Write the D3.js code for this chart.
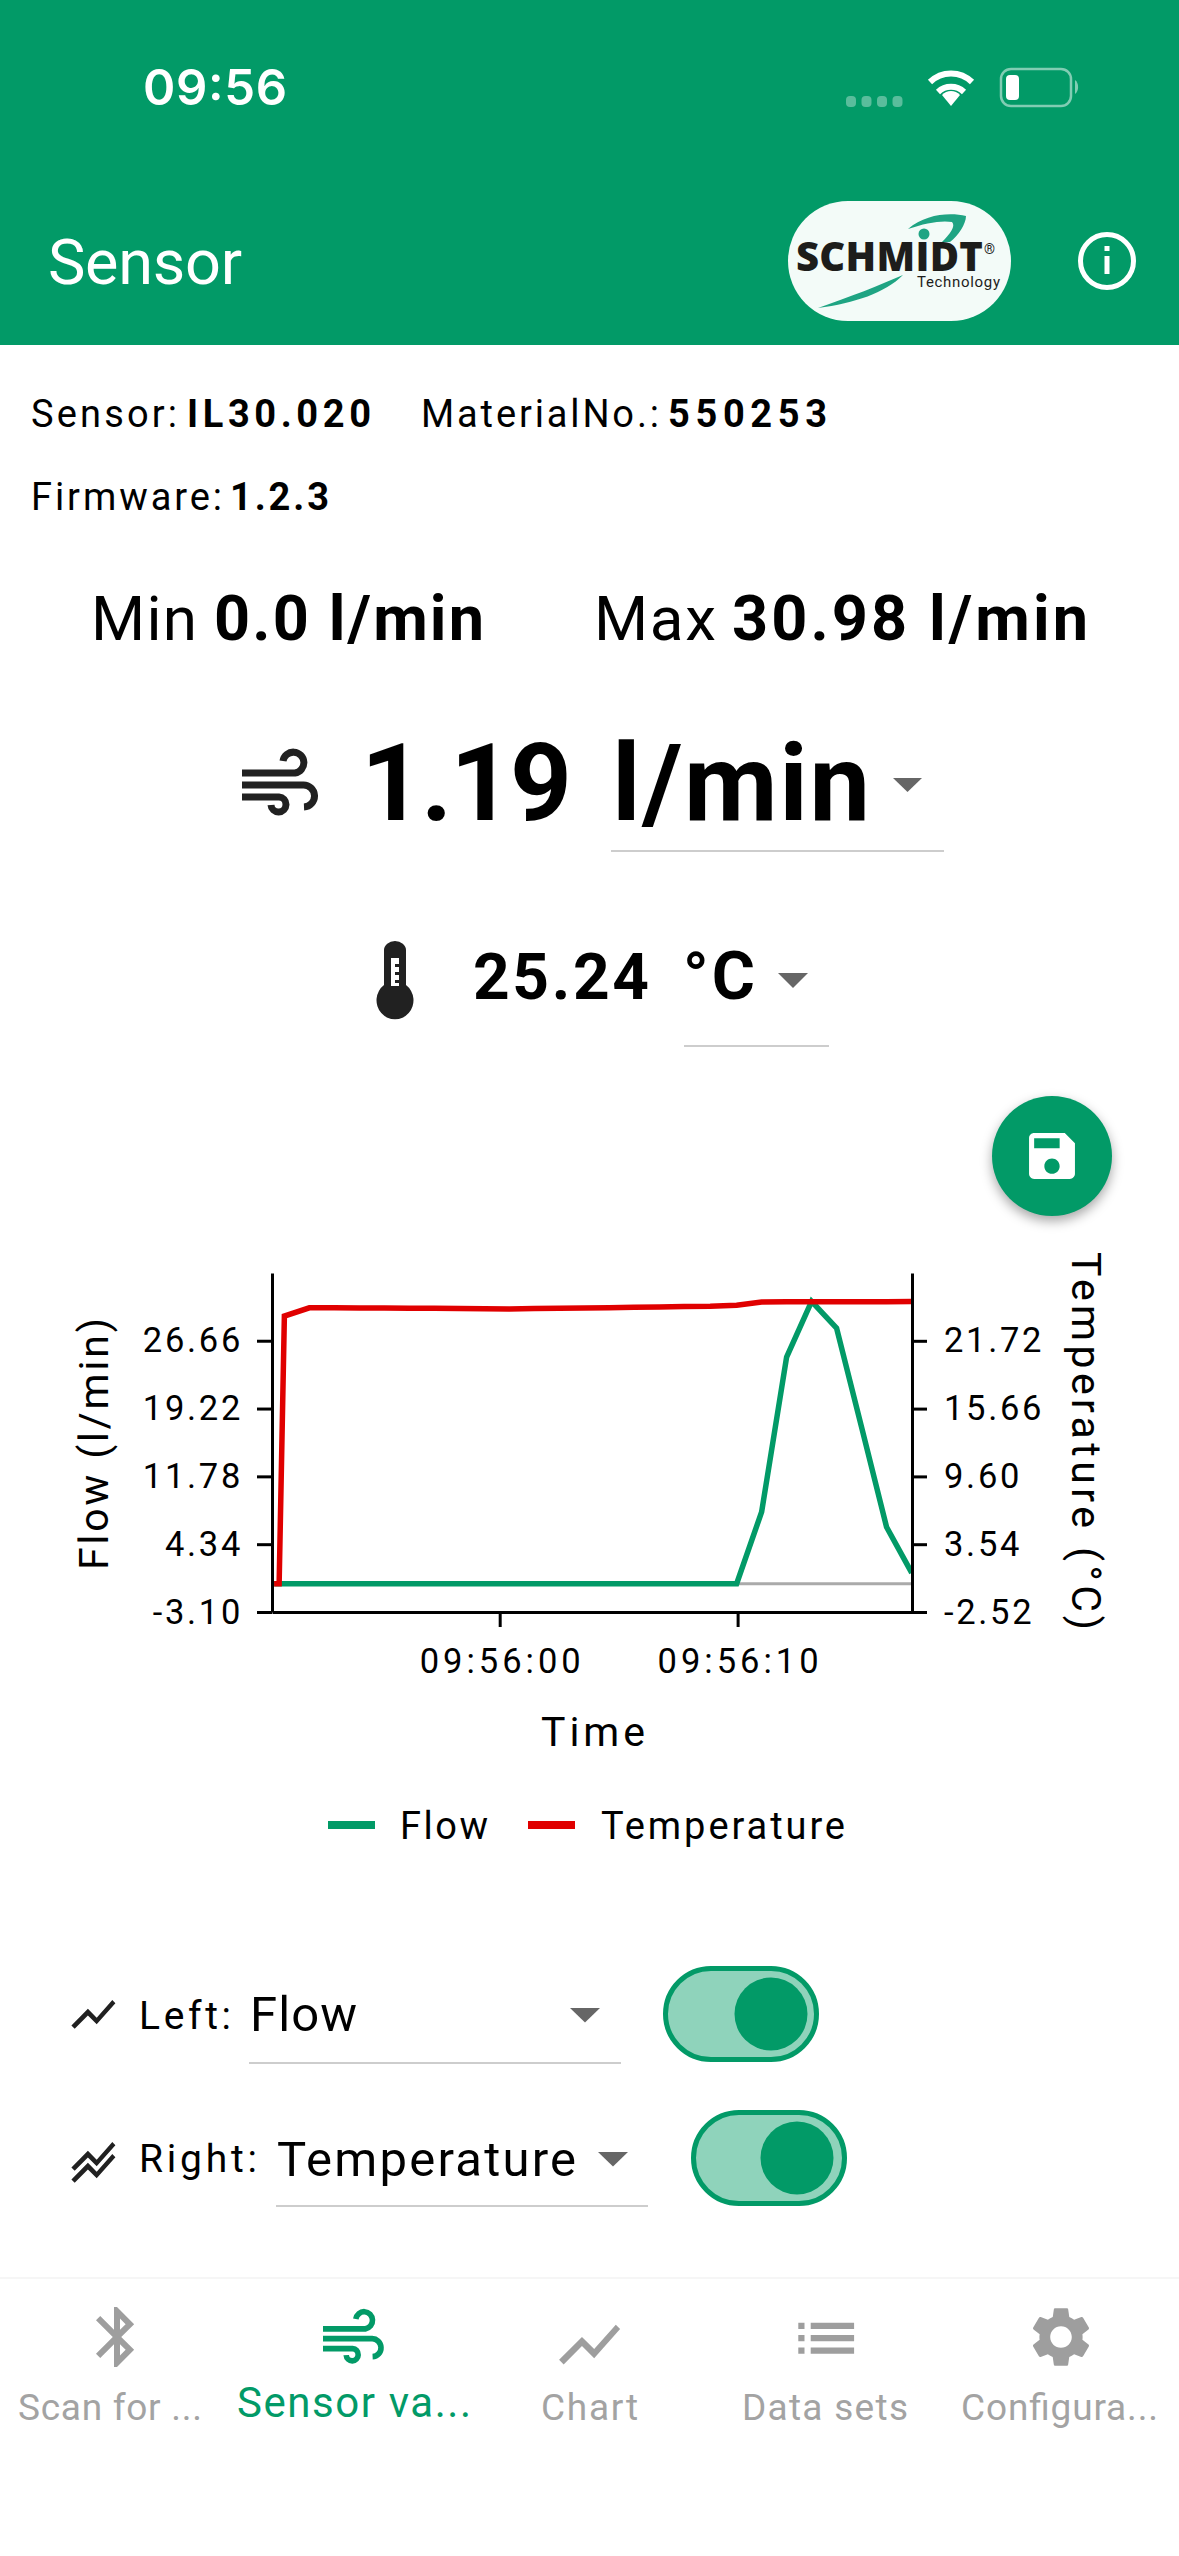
<!DOCTYPE html>
<html lang="en">
<head>
    <meta charset="UTF-8">
    <title>Sensor</title>
    <script src="https://d3js.org/d3.v7.min.js"></script>
    <style>
        html, body { margin: 0; padding: 0; background: #fff; }
        svg { display: block; font-family: Roboto, sans-serif; }
        .axis path, .axis line { stroke: #000; stroke-width: 3; }
        .axis text { font-family: Roboto, sans-serif; font-size: 34.5px; fill: #000; letter-spacing: 2.7px; }
        .axis.time text { letter-spacing: 4px; }
    </style>
</head>
<body>
    <svg width="1179" height="2556"></svg>
    <script>
        // chart data
        const times = ["09:55:50.520", "09:55:50.730", "09:55:50.950", "09:55:52.000", "09:55:53.050", "09:55:54.100", "09:55:55.150",
            "09:55:56.200", "09:55:57.250", "09:55:58.300", "09:55:59.350", "09:56:00.400", "09:56:01.450", "09:56:02.500",
            "09:56:03.550", "09:56:04.600", "09:56:05.650", "09:56:06.700", "09:56:07.750", "09:56:08.850", "09:56:09.960",
            "09:56:11.010", "09:56:12.060", "09:56:13.110", "09:56:14.160", "09:56:15.210", "09:56:16.260", "09:56:17.320"];
        const flow = [0, 0, 0, 0, 0, 0, 0, 0, 0, 0, 0, 0, 0, 0, 0, 0, 0, 0, 0, 0, 0,
            7.88, 24.87, 30.98, 28.05, 17.18, 6.23, 1.19];
        const temperature = [0, 0, 23.93, 24.67, 24.67, 24.66, 24.65, 24.64, 24.62, 24.60, 24.58, 24.57, 24.60, 24.63,
            24.65, 24.68, 24.72, 24.75, 24.78, 24.80, 24.90, 25.18, 25.20, 25.20, 25.20, 25.22, 25.22, 25.24];
        const flowTicks = [-3.10, 4.34, 11.78, 19.22, 26.66];
        const flowTickLabels = ["-3.10", "4.34", "11.78", "19.22", "26.66"];
        const tempTicks = [-2.52, 3.54, 9.60, 15.66, 21.72];
        const tempTickLabels = ["-2.52", "3.54", "9.60", "15.66", "21.72"];
        const timeTicks = ["09:56:00.000", "09:56:10.000"];
        const timeTickLabels = ["09:56:00", "09:56:10"];
        const timeDomain = ["09:55:50.430", "09:56:17.330"];
        const flowDomain = [-3.10, 34.09];
        const tempDomain = [-2.52, 27.78];
        const seriesNames = ["Flow", "Temperature"];

        const green = "#029a67";
        const red = "#e00000";
        const grey = "#9e9e9e";

        const svg = d3.select("svg");
        const parseTime = d3.timeParse("%H:%M:%S.%L");

        // small helper for all the text on the page
        function txt(x, y, s, size, o = {}) {
            const t = svg.append("text")
                .attr("x", x).attr("y", y)
                .attr("font-size", size)
                .attr("font-weight", o.w || 400)
                .attr("fill", o.fill || "#000")
                .attr("text-anchor", o.anchor || "start")
                .text(s);
            if (o.len) t.attr("textLength", o.len).attr("lengthAdjust", "spacing");
            if (o.family) t.attr("font-family", o.family);
            if (o.rot) t.attr("transform", `rotate(${o.rot},${x},${y})`);
            return t;
        }

        function icon(d, x, y, scale, fill) {
            return svg.append("path").attr("d", d).attr("fill", fill)
                .attr("transform", `translate(${x},${y}) scale(${scale})`);
        }

        function windIcon(x, y, sx, sy, color, sw) {
            const g = svg.append("g").attr("transform", `translate(${x},${y}) scale(${sx},${sy})`)
                .attr("fill", "none").attr("stroke", color).attr("stroke-width", sw);
            g.append("path").attr("d", "M0 23H53a10.5 10.5 0 1 0 -12 -12");
            g.append("path").attr("d", "M0 35H61a11 11 0 0 1 1 22");
            g.append("path").attr("d", "M0 47H37a7.5 7.5 0 1 1 -8 8");
        }

        // header
        svg.append("rect").attr("width", 1179).attr("height", 345).attr("fill", green);
        txt(143, 105, "09:56", 49, { fill: "#fff", w: 600, len: 144, family: "Inter" });
        [0, 1, 2, 3].forEach(i => svg.append("rect").attr("x", 846 + i * 15.5).attr("y", 96).attr("width", 10).attr("height", 11)
            .attr("rx", 4).attr("fill", "#fff").attr("opacity", 0.35));
        // wifi
        const wifi = svg.append("g").attr("transform", "translate(951,106)").attr("fill", "none").attr("stroke", "#fff").attr("stroke-width", 6);
        wifi.append("path").attr("d", "M-21 -24A30 30 0 0 1 21 -24");
        wifi.append("path").attr("d", "M-13 -14A19 19 0 0 1 13 -14");
        wifi.append("path").attr("d", "M-9 -11L0 0L9 -11A12 12 0 0 0 -9 -11Z").attr("fill", "#fff").attr("stroke", "none");
        // battery
        svg.append("rect").attr("x", 1001).attr("y", 69).attr("width", 70).attr("height", 37).attr("rx", 10)
            .attr("fill", "none").attr("stroke", "#fff").attr("stroke-width", 2.5).attr("opacity", 0.5);
        svg.append("rect").attr("x", 1006).attr("y", 75).attr("width", 13).attr("height", 25).attr("rx", 4).attr("fill", "#fff");
        svg.append("path").attr("d", "M1075 80a6 8 0 0 1 0 14Z").attr("fill", "#fff").attr("opacity", 0.5);

        txt(48, 284, "Sensor", 63, { fill: "#fff", len: 194 });

        // logo
        svg.append("rect").attr("x", 788).attr("y", 201).attr("width", 223).attr("height", 120).attr("rx", 60).attr("fill", "#f3fbf8");
        svg.append("path").attr("d", "M908 229C925 214 950 212 966 216C966 224 958 236 950 242L942 242C950 234 956 226 952 222C942 220 925 223 908 229Z").attr("fill", "#1fa483");
        svg.append("circle").attr("cx", 924).attr("cy", 234).attr("r", 5.5).attr("fill", "#1fa483");
        svg.append("path").attr("d", "M818 308C850 297 880 285 903 275C885 293 855 303 818 308Z").attr("fill", "#1fa483");
        txt(796, 271, "SCHMIDT", 40, { w: 800, fill: "#1d1d1b", family: "'Open Sans'", len: 187 });
        txt(984, 254, "®", 14, { fill: "#1d1d1b" });
        txt(917, 287, "Technology", 15, { fill: "#1d1d1b", len: 83 });

        // info icon
        svg.append("circle").attr("cx", 1107).attr("cy", 261).attr("r", 26.5).attr("fill", "none").attr("stroke", "#fff").attr("stroke-width", 5);
        svg.append("rect").attr("x", 1104.5).attr("y", 256).attr("width", 5).attr("height", 18).attr("fill", "#fff");
        svg.append("rect").attr("x", 1104.5).attr("y", 246).attr("width", 5).attr("height", 5).attr("fill", "#fff");

        // sensor info
        txt(31, 427, "Sensor:", 38, { len: 146 });
        txt(187, 427, "IL30.020", 38, { w: 700, len: 184 });
        txt(421, 427, "MaterialNo.:", 38, { len: 238 });
        txt(668, 427, "550253", 38, { w: 700, len: 159 });
        txt(31, 510, "Firmware:", 38, { len: 191 });
        txt(230, 510, "1.2.3", 38, { w: 700, len: 99 });

        // min / max
        txt(91, 640, "Min", 62, { len: 106 });
        txt(214, 640, "0.0 l/min", 63, { w: 700, len: 270 });
        txt(594, 640, "Max", 62, { len: 122 });
        txt(732, 640, "30.98 l/min", 63, { w: 700, len: 356 });

        // current flow
        windIcon(242, 750, 1, 1, "#212121", 7);
        txt(361, 820, "1.19", 108, { w: 700, len: 211 });
        txt(612, 820, "l/min", 108, { w: 700, len: 258 });
        svg.append("path").attr("d", "M893 778H922L907.5 792Z").attr("fill", "#666");
        svg.append("line").attr("x1", 611).attr("x2", 944).attr("y1", 851).attr("y2", 851).attr("stroke", "#bdbdbd").attr("stroke-width", 1.5);

        // current temperature
        svg.append("path").attr("d", "M384 950a11 9 0 0 1 22 0V985a18.5 19 0 1 1 -22 0Z").attr("fill", "#212121");
        svg.append("path").attr("d", "M391 958h8v28h-8Z").attr("fill", "#fff");
        svg.append("path").attr("d", "M395 964h4v3h-4ZM395 972h4v3h-4ZM395 980h4v3h-4Z").attr("fill", "#212121");
        txt(473, 999, "25.24", 64, { w: 700, len: 176 });
        txt(683, 999, "°C", 66, { w: 700, len: 72 });
        svg.append("path").attr("d", "M778 973H808L793 988Z").attr("fill", "#666");
        svg.append("line").attr("x1", 684).attr("x2", 829).attr("y1", 1046).attr("y2", 1046).attr("stroke", "#bdbdbd").attr("stroke-width", 1.5);

        // save button
        svg.append("circle").attr("cx", 1052).attr("cy", 1156).attr("r", 60).attr("fill", green)
            .style("filter", "drop-shadow(0px 5px 6px rgba(0,0,0,0.35))");
        icon("M17 3H5c-1.11 0-2 .9-2 2v14c0 1.1.89 2 2 2h14c1.1 0 2-.9 2-2V7l-4-4zm-5 16c-1.66 0-3-1.34-3-3s1.34-3 3-3 3 1.34 3 3-1.34 3-3 3zm3-10H5V5h10v4z", 1021.4, 1125.4, 2.55, "#fff");

        // chart
        const plotLeft = 272, plotRight = 912, plotTop = 1273, plotBottom = 1612;
        const x = d3.scaleTime().domain(timeDomain.map(parseTime)).range([plotLeft, plotRight]);
        const yFlow = d3.scaleLinear().domain(flowDomain).range([plotBottom, plotTop]);
        const yTemp = d3.scaleLinear().domain(tempDomain).range([plotBottom, plotTop]);

        // grey zero line of the flow axis
        svg.append("line").attr("x1", plotLeft).attr("x2", plotRight)
            .attr("y1", yFlow(0)).attr("y2", yFlow(0)).attr("stroke", "#aaa").attr("stroke-width", 3);

        const flowLine = d3.line().x((d, i) => x(parseTime(times[i]))).y(d => yFlow(d));
        const tempLine = d3.line().x((d, i) => x(parseTime(times[i]))).y(d => yTemp(d));

        svg.append("path").datum(flow).attr("d", flowLine).attr("fill", "none").attr("stroke", green).attr("stroke-width", 5.5);
        svg.append("path").datum(temperature).attr("d", tempLine).attr("fill", "none").attr("stroke", red).attr("stroke-width", 5.5);

        svg.append("g").attr("class", "axis").attr("transform", `translate(${plotLeft},0)`)
            .call(d3.axisLeft(yFlow).tickValues(flowTicks).tickFormat((d, i) => flowTickLabels[i]).tickSize(15).tickSizeOuter(0).tickPadding(14));
        svg.append("g").attr("class", "axis").attr("transform", `translate(${plotRight},0)`)
            .call(d3.axisRight(yTemp).tickValues(tempTicks).tickFormat((d, i) => tempTickLabels[i]).tickSize(15).tickSizeOuter(0).tickPadding(17));
        svg.append("g").attr("class", "axis time").attr("transform", `translate(0,${plotBottom})`)
            .call(d3.axisBottom(x).tickValues(timeTicks.map(parseTime)).tickFormat((d, i) => timeTickLabels[i]).tickSize(15).tickSizeOuter(0).tickPadding(22))
            .selectAll("text").attr("dx", 2);

        txt(593, 1746, "Time", 41, { anchor: "middle", len: 104 });
        txt(108, 1444, "Flow (l/min)", 41, { anchor: "middle", rot: -90, len: 252 });
        txt(1072, 1441, "Temperature (°C)", 41, { anchor: "middle", rot: 90, len: 378 });

        // legend
        svg.append("line").attr("x1", 328).attr("x2", 375).attr("y1", 1825).attr("y2", 1825).attr("stroke", green).attr("stroke-width", 8);
        txt(400, 1839, seriesNames[0], 38, { len: 88 });
        svg.append("line").attr("x1", 528).attr("x2", 575).attr("y1", 1825).attr("y2", 1825).attr("stroke", red).attr("stroke-width", 8);
        txt(601, 1839, seriesNames[1], 38, { len: 244 });

        // axis selectors
        const chartPath = "M3.5 18.49l6-6.01 4 4L22 6.92l-1.41-1.41-7.09 7.97-4-4L2 16.99z";
        icon(chartPath, 67, 1988, 2.2, "#212121");
        icon(chartPath, 67, 2130, 2.2, "#212121");
        icon(chartPath, 67, 2142, 2.2, "#212121");

        function toggle(tx, ty, knobX) {
            svg.append("rect").attr("x", tx + 2.5).attr("y", ty + 2.5).attr("width", 151).attr("height", 91).attr("rx", 45.5)
                .attr("fill", "#8fd3bb").attr("stroke", green).attr("stroke-width", 5);
            svg.append("circle").attr("cx", knobX).attr("cy", ty + 48).attr("r", 36.5).attr("fill", green);
        }

        function dropdown(ax, ay, lx, lw, ly) {
            svg.append("path").attr("d", `M${ax} ${ay}h30l-15 14.5Z`).attr("fill", "#666");
            svg.append("line").attr("x1", lx).attr("x2", lx + lw).attr("y1", ly).attr("y2", ly).attr("stroke", "#bdbdbd").attr("stroke-width", 1.5);
        }

        txt(139, 2029, "Left:", 39, { len: 92 });
        txt(250, 2031, seriesNames[0], 49, { len: 107 });
        dropdown(570, 2008, 249, 372, 2063);
        toggle(663, 1966, 771);

        txt(139, 2172, "Right:", 39, { len: 118 });
        txt(277, 2176, seriesNames[1], 49, { len: 299 });
        dropdown(598, 2152, 276, 372, 2206);
        toggle(691, 2110, 797);

        // tab bar
        svg.append("line").attr("x1", 0).attr("x2", 1179).attr("y1", 2278).attr("y2", 2278).attr("stroke", "#f6f6f6").attr("stroke-width", 2);
        icon("M17.71 7.71L12 2h-1v7.59L6.41 5 5 6.41 10.59 12 5 17.59 6.41 19 11 14.41V22h1l5.71-5.71-4.3-4.29 4.3-4.29zM13 5.83l1.88 1.88L13 9.59V5.83zm1.88 10.46L13 18.17v-3.76l1.88 1.88z", 81, 2301, 3, grey);
        windIcon(323, 2310, 0.8, 0.82, green, 7);
        icon(chartPath, 553, 2308, 3.05, grey);
        icon("M3 13h2v-2H3v2zm0 4h2v-2H3v2zm0-8h2V7H3v2zm4 4h14v-2H7v2zm0 4h14v-2H7v2zM7 7v2h14V7H7z", 789, 2301, 3.1, grey);
        icon("M19.14,12.94c0.04-0.3,0.06-0.61,0.06-0.94c0-0.32-0.02-0.64-0.07-0.94l2.03-1.58c0.18-0.14,0.23-0.41,0.12-0.61 l-1.92-3.32c-0.12-0.22-0.37-0.29-0.59-0.22l-2.39,0.96c-0.5-0.38-1.03-0.7-1.62-0.94L14.4,2.81c-0.04-0.24-0.24-0.41-0.48-0.41 h-3.84c-0.24,0-0.43,0.17-0.47,0.41L9.25,5.35C8.66,5.59,8.12,5.92,7.63,6.29L5.24,5.33c-0.22-0.08-0.47,0-0.59,0.22L2.74,8.87 C2.62,9.08,2.66,9.34,2.86,9.48l2.03,1.58C4.84,11.36,4.8,11.69,4.8,12s0.02,0.64,0.07,0.94l-2.03,1.58 c-0.18,0.14-0.23,0.41-0.12,0.61l1.92,3.32c0.12,0.22,0.37,0.29,0.59,0.22l2.39-0.96c0.5,0.38,1.03,0.7,1.62,0.94l0.36,2.54 c0.05,0.24,0.24,0.41,0.48,0.41h3.84c0.24,0,0.44-0.17,0.47-0.41l0.36-2.54c0.59-0.24,1.13-0.56,1.62-0.94l2.39,0.96 c0.22,0.08,0.47,0,0.59-0.22l1.92-3.32c0.12-0.22,0.07-0.47-0.12-0.61L19.14,12.94z M12,15.6c-1.98,0-3.6-1.62-3.6-3.6 s1.62-3.6,3.6-3.6s3.6,1.62,3.6,3.6S13.98,15.6,12,15.6z", 1025, 2301, 3, grey);

        txt(18, 2420, "Scan for ...", 37, { fill: "#a3a3a3", len: 184 });
        txt(237, 2417, "Sensor va...", 42, { fill: green, len: 234 });
        txt(541, 2420, "Chart", 37, { fill: "#a3a3a3", len: 97 });
        txt(742, 2420, "Data sets", 37, { fill: "#a3a3a3", len: 166 });
        txt(961, 2420, "Configura...", 37, { fill: "#a3a3a3", len: 197 });
    </script>
</body>
</html>
